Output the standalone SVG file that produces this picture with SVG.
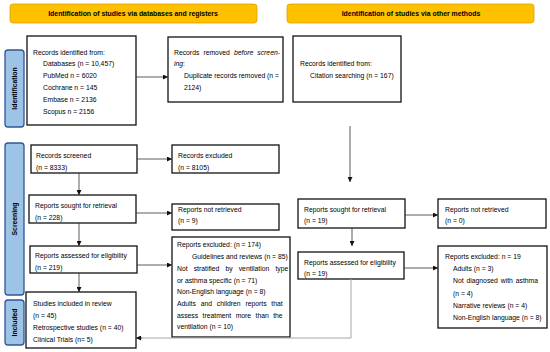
<svg xmlns="http://www.w3.org/2000/svg" width="550" height="352" viewBox="0 0 550 352">
<style>
text{font-family:"Liberation Sans",Arial,sans-serif;font-size:6.8px;fill:#000}
.b{fill:#fff;stroke:#111;stroke-width:1.3}
.ban{fill:#FFC000;stroke:#D9A300;stroke-width:0.8}
.banT{font-weight:bold;text-anchor:middle;font-size:6.9px}
.side{fill:#9DC3E6;stroke:#2F5597;stroke-width:1.3}
.sideT{font-weight:bold;text-anchor:middle}
.c{fill:none;stroke:#333;stroke-width:0.8}
.g{fill:none;stroke:#a6a6a6;stroke-width:1}
</style>
<defs>
<marker id="ah" viewBox="0 0 10 10" refX="10" refY="5" markerWidth="5" markerHeight="5" markerUnits="userSpaceOnUse" orient="auto">
<path d="M0,0 L10,5 L0,10 z" fill="#111"/>
</marker>
</defs>
<rect width="550" height="352" fill="#fff"/>

<g id="banner-left"><rect class="ban" x="10" y="4" width="247" height="19" rx="3"/><text class="banT" x="133" y="16">Identification of studies via databases and registers</text></g>
<g id="banner-right"><rect class="ban" x="287" y="4" width="247" height="19" rx="3"/><text class="banT" x="411" y="16">Identification of studies via other methods</text></g>

<g id="side-identification"><rect class="side" x="5" y="50" width="19" height="77" rx="3"/><text class="sideT" transform="translate(17 88.5) rotate(-90)">Identification</text></g>
<g id="side-screening"><rect class="side" x="5" y="143" width="19" height="152" rx="3"/><text class="sideT" transform="translate(17 219) rotate(-90)">Screening</text></g>
<g id="side-included"><rect class="side" x="5" y="300" width="19" height="45" rx="3"/><text class="sideT" transform="translate(17 322.5) rotate(-90)">Included</text></g>

<g id="records-identified"><rect class="b" x="27" y="36" width="109" height="89"/>
<text x="33" y="54.5">Records identified from:</text>
<text x="43" y="66.3">Databases (n = 10,457)</text>
<text x="43" y="78.1">PubMed n = 6020</text>
<text x="43" y="89.9">Cochrane n = 145</text>
<text x="43" y="101.7">Embase n = 2136</text>
<text x="43" y="113.5">Scopus n = 2156</text></g>

<g id="records-removed"><rect class="b" x="168" y="37" width="115" height="65"/>
<text x="174" y="54.5" word-spacing="2.2">Records removed <tspan font-style="italic">before screen-</tspan></text>
<text x="174" y="65.8" font-style="italic">ing<tspan font-style="normal">:</tspan></text>
<text x="184" y="77.5">Duplicate records removed (n =</text>
<text x="184" y="89.5">2124)</text></g>

<g id="citation-identified"><rect class="b" x="293" y="36" width="108" height="66"/>
<text x="300" y="65.5">Records identified from:</text>
<text x="310" y="78">Citation searching (n = 167)</text></g>

<g id="records-screened"><rect class="b" x="31" y="145" width="106" height="28"/>
<text x="36" y="157.5">Records screened</text><text x="36" y="169.5">(n = 8333)</text></g>
<g id="records-excluded"><rect class="b" x="172" y="145" width="107" height="28"/>
<text x="178" y="157.5">Records excluded</text><text x="178" y="169.5">(n = 8105)</text></g>

<g id="sought-left"><rect class="b" x="29" y="195" width="107" height="28"/>
<text x="35" y="207.5">Reports sought for retrieval</text><text x="35" y="219.5">(n = 228)</text></g>
<g id="notretrieved-left"><rect class="b" x="172" y="204" width="107" height="26"/>
<text x="178" y="211.8">Reports not retrieved</text><text x="178" y="223">(n = 9)</text></g>

<g id="assessed-left"><rect class="b" x="30" y="246" width="107" height="27"/>
<text x="35" y="257.5">Reports assessed for eligibility</text><text x="35" y="269.5">(n = 219)</text></g>
<g id="excluded-left"><rect class="b" x="172" y="237" width="118" height="100"/>
<text x="177" y="247.4">Reports excluded: (n = 174)</text>
<text x="192" y="259.1">Guidelines and reviews (n = 85)</text>
<text x="177" y="270.8" word-spacing="4.2">Not stratified by ventilation type</text>
<text x="177" y="282.5">or asthma specific (n = 71)</text>
<text x="177" y="294.2">Non-English language (n = 8)</text>
<text x="177" y="305.9" word-spacing="2.9">Adults and children reports that</text>
<text x="177" y="317.6" word-spacing="2.5">assess treatment more than the</text>
<text x="177" y="329.3">ventilation (n = 10)</text></g>

<g id="included"><rect class="b" x="26" y="292" width="110" height="56"/>
<text x="33" y="305.5">Studies included in review</text>
<text x="33" y="317.5">(n = 45)</text>
<text x="33" y="329.5">Retrospective studies (n = 40)</text>
<text x="33" y="341.5">Clinical Trials (n= 5)</text></g>

<g id="sought-right"><rect class="b" x="298" y="199" width="107" height="29"/>
<text x="304" y="211.5">Reports sought for retrieval</text><text x="304" y="222.5">(n = 19)</text></g>
<g id="notretrieved-right"><rect class="b" x="438" y="199" width="108" height="29"/>
<text x="445" y="211.5">Reports not retrieved</text><text x="445" y="222.5">(n = 0)</text></g>

<g id="assessed-right"><rect class="b" x="298" y="252" width="106" height="27"/>
<text x="304" y="264.5">Reports assessed for eligibility</text><text x="304" y="275.5">(n = 19)</text></g>
<g id="excluded-right"><rect class="b" x="438" y="246" width="109" height="82"/>
<text x="445" y="258.5">Reports excluded: n = 19</text>
<text x="453" y="270.5">Adults (n = 3)</text>
<text x="453" y="283" word-spacing="1">Not diagnosed with asthma</text>
<text x="453" y="295.5">(n = 4)</text>
<text x="453" y="307.5">Narrative reviews (n = 4)</text>
<text x="453" y="319.5">Non-English language (n = 8)</text></g>

<g id="connectors">
<path class="c" d="M136,77 H168" marker-end="url(#ah)"/>
<path class="c" d="M137,159 H172" marker-end="url(#ah)"/>
<path class="c" d="M79,173 V195" marker-end="url(#ah)"/>
<path class="c" d="M136,213 H172" marker-end="url(#ah)"/>
<path class="c" d="M79,223 V246" marker-end="url(#ah)"/>
<path class="c" d="M137,265 H172" marker-end="url(#ah)"/>
<path class="c" d="M79,273 V292" marker-end="url(#ah)"/>
<path class="c" d="M350,126 V182" marker-end="url(#ah)"/>
<path class="c" d="M405,215 H438" marker-end="url(#ah)"/>
<path class="c" d="M352,228 V246" marker-end="url(#ah)"/>
<path class="c" d="M404,268 H438" marker-end="url(#ah)"/>
<path class="g" d="M351,279 V338 H141"/>
<path class="c" d="M142,338 H136" marker-end="url(#ah)"/>
</g>
</svg>
